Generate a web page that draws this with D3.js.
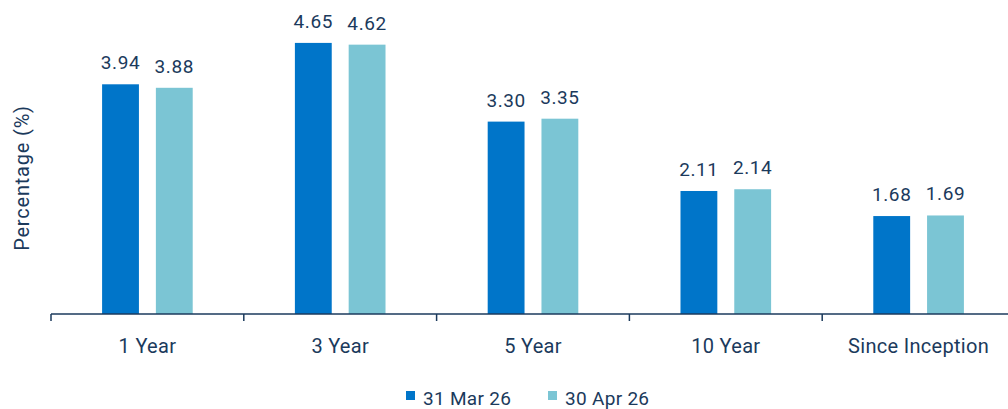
<!DOCTYPE html>
<html>
<head>
<meta charset="utf-8">
<script src="https://cdn.jsdelivr.net/npm/d3@7"></script>
<style>
  html, body { margin: 0; padding: 0; background: #fff; }
  svg text { font-family: Roboto, "Open Sans", sans-serif; fill: #1b3a5c; }
</style>
</head>
<body>
<svg id="chart" width="1008" height="409"></svg>
<script>
// Annualised returns by period, two reporting dates
const categories = ["1 Year", "3 Year", "5 Year", "10 Year", "Since Inception"];
const seriesNames = ["31 Mar 26", "30 Apr 26"];
const marValues = [3.94, 4.65, 3.30, 2.11, 1.68];
const aprValues = [3.88, 4.62, 3.35, 2.14, 1.69];
const colors = ["#0075c9", "#7bc5d4"];

const svg = d3.select("#chart");
const axisY = 314;

const x = d3.scaleBand().domain(categories).range([51, 1015]);
const bw = x.bandwidth();
// pair of bars centred in each band, with generous outer space
const x1 = d3.scaleBand().domain(seriesNames)
  .range([bw * 0.265, bw * 0.735]).paddingInner(0.315).paddingOuter(0);
const y = d3.scaleLinear().domain([0, 5]).range([axisY, axisY - 5 * 58.3]);

const rows = categories.map((c, i) => ({ cat: c, vals: [marValues[i], aprValues[i]] }));

const groups = svg.append("g").selectAll("g")
  .data(rows).join("g")
  .attr("transform", d => `translate(${x(d.cat)},0)`);

groups.selectAll("rect")
  .data(d => d.vals.map((v, j) => ({ name: seriesNames[j], v, j })))
  .join("rect")
  .attr("x", d => x1(d.name))
  .attr("width", x1.bandwidth())
  .attr("y", d => y(d.v))
  .attr("height", d => axisY - y(d.v))
  .attr("fill", d => colors[d.j]);

groups.selectAll("text.val")
  .data(d => d.vals.map((v, j) => ({ name: seriesNames[j], v, j })))
  .join("text")
  .attr("class", "val")
  .attr("x", d => x1(d.name) + x1.bandwidth() / 2)
  .attr("y", d => y(d.v) - 15)
  .attr("text-anchor", "middle")
  .style("font-size", "19px")
  .style("letter-spacing", "0.6px")
  .text(d => d.v.toFixed(2));

// Category axis with boundary ticks
const tickPositions = categories.map(c => x(c));
const axisG = svg.append("g");
axisG.append("line")
  .attr("x1", 51).attr("x2", 1008)
  .attr("y1", axisY).attr("y2", axisY)
  .attr("stroke", "#1b3a5c").attr("stroke-width", 1.5);
axisG.selectAll("line.tick")
  .data(tickPositions).join("line")
  .attr("class", "tick")
  .attr("x1", d => d).attr("x2", d => d)
  .attr("y1", axisY).attr("y2", axisY + 7)
  .attr("stroke", "#1b3a5c").attr("stroke-width", 1.5);
axisG.selectAll("text.cat")
  .data(categories).join("text")
  .attr("class", "cat")
  .attr("x", d => x(d) + bw / 2)
  .attr("y", 353)
  .attr("text-anchor", "middle")
  .style("font-size", "20px")
  .style("letter-spacing", "0.3px")
  .text(d => d);

// Y-axis title
svg.append("text")
  .attr("transform", "translate(29,178) rotate(-90)")
  .attr("text-anchor", "middle")
  .style("font-size", "20px")
  .style("letter-spacing", "0.8px")
  .text("Percentage (%)");

// Legend
const legendX = [406, 548];
const legend = svg.append("g").selectAll("g")
  .data(seriesNames).join("g")
  .attr("transform", (d, i) => `translate(${legendX[i]},0)`);
legend.append("rect")
  .attr("x", 0).attr("y", 391).attr("width", 9).attr("height", 9)
  .attr("fill", (d, i) => colors[i]);
legend.append("text")
  .attr("x", 17).attr("y", 405)
  .style("font-size", "19px")
  .style("letter-spacing", "0.3px")
  .text(d => d);
</script>
</body>
</html>
